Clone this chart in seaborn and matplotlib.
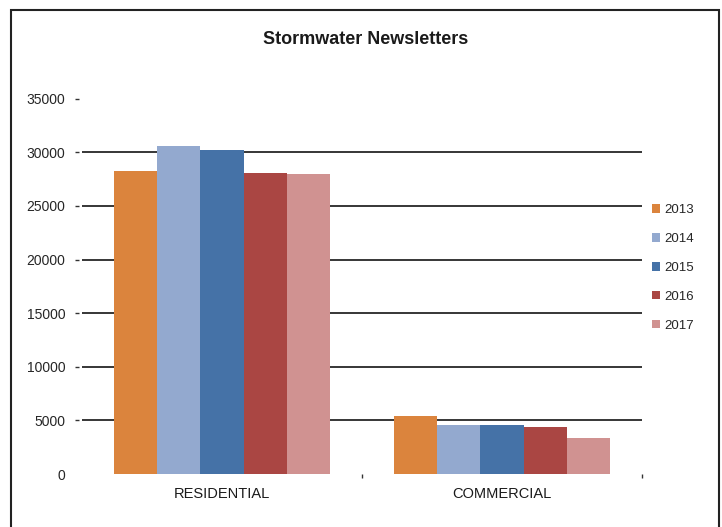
import matplotlib
matplotlib.use("Agg")
import matplotlib.pyplot as plt
from matplotlib.patches import Rectangle, Patch
import seaborn as sns
import pandas as pd

categories = ["RESIDENTIAL", "COMMERCIAL"]
years = ["2013", "2014", "2015", "2016", "2017"]
residential = [28300, 30600, 30200, 28100, 28000]
commercial = [5450, 4550, 4550, 4400, 3400]
colors = ["#DB843D", "#93A9CF", "#4572A7", "#AA4643", "#D09291"]
yticks = [0, 5000, 10000, 15000, 20000, 25000, 30000, 35000]

rows = []
for yr, r, c in zip(years, residential, commercial):
    rows.append({"category": categories[0], "year": yr, "count": r})
    rows.append({"category": categories[1], "year": yr, "count": c})
df = pd.DataFrame(rows)

sns.set_style("white")
plt.rcParams["font.family"] = ["Liberation Sans", "DejaVu Sans"]

W, H = 722, 527
fig = plt.figure(figsize=(W / 100, H / 100), dpi=100)
ax = fig.add_axes([82 / W, 1 - 474 / H, (642 - 82) / W, (474 - 98.7) / H])

sns.barplot(data=df, x="category", y="count", hue="year", order=categories,
            hue_order=years, palette=colors, width=0.77, gap=0,
            saturation=1, errorbar=None, linewidth=0, ax=ax, zorder=3)

ax.set_xlim(-0.5, 1.5)
ax.set_ylim(0, 35000)
ax.set_yticks(yticks)
ax.set_yticklabels([str(v) for v in yticks], fontsize=9, color="#1a1a1a")
for v in yticks[1:-1]:
    ax.axhline(v, color="black", lw=1.1, zorder=1)

for s in ax.spines.values():
    s.set_visible(False)
ax.spines["left"].set_position(("outward", 2))
ax.tick_params(axis="y", which="major", direction="out", length=3, width=1,
               color="#333333", pad=7, left=True)
ax.yaxis.get_major_ticks()[0].tick1line.set_visible(False)

ax.set_xticks([0, 1])
ax.set_xticklabels(categories, fontsize=10.5, color="#1a1a1a")
ax.set_xticks([0.5, 1.5], minor=True)
ax.tick_params(axis="x", which="major", length=0, pad=9)
ax.tick_params(axis="x", which="minor", direction="out", length=3, width=1,
               color="#333333", bottom=True)
ax.set_xlabel("")
ax.set_ylabel("")

ax.get_legend().remove()
handles = [Patch(facecolor=c, edgecolor="none") for c in colors]
fig.legend(handles, years, loc="upper left",
           bbox_to_anchor=(647 / W, 1 - 199 / H), frameon=False,
           fontsize=9.5, handlelength=0.6, handleheight=0.6,
           handletextpad=0.3, labelspacing=1.28, borderaxespad=0)

fig.text(366 / W, 1 - 39 / H, "Stormwater Newsletters", ha="center",
         va="center", fontsize=13, fontweight="bold", color="#1a1a1a")

fig.patches.append(Rectangle((11 / W, -0.02), (719 - 11) / W, (527 - 10) / H + 0.02,
                             transform=fig.transFigure, fill=False,
                             edgecolor="#222222", lw=1.5))

fig.savefig("out.png", dpi=100, facecolor="white")
